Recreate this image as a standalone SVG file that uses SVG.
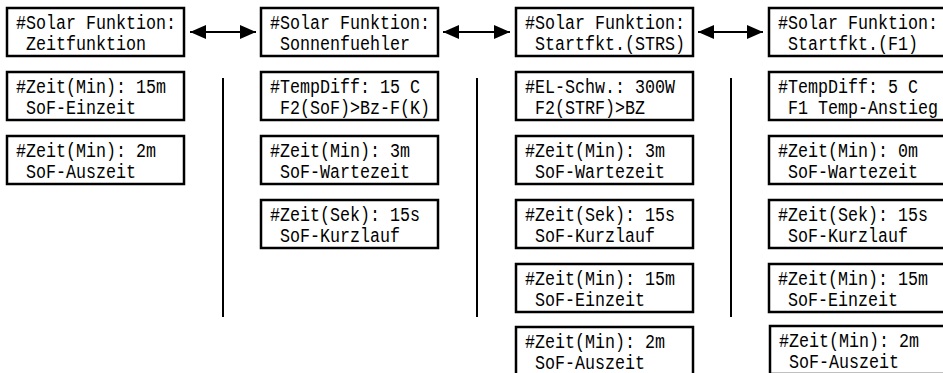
<svg xmlns="http://www.w3.org/2000/svg" width="943" height="373" viewBox="0 0 943 373">
<style>
.box{fill:#fff;stroke:#000;stroke-width:2.5}
.t{font-family:"Liberation Mono","DejaVu Sans Mono",monospace;font-size:20px;fill:#000}
.ln{stroke:#000;stroke-width:2;fill:none}
</style>
<defs>
<marker id="ah" viewBox="0 0 16 14" refX="16" refY="7" markerWidth="16" markerHeight="14" markerUnits="userSpaceOnUse" orient="auto-start-reverse">
<path d="M0,0 L16,7 L0,14 Z" fill="#000"/>
</marker>
</defs>
<rect width="943" height="373" fill="#fff"/>
<g id="connectors">
<line class="ln" x1="190" y1="32" x2="256" y2="32" marker-start="url(#ah)" marker-end="url(#ah)"/>
<line class="ln" x1="443" y1="32" x2="510" y2="32" marker-start="url(#ah)" marker-end="url(#ah)"/>
<line class="ln" x1="698" y1="32" x2="763" y2="32" marker-start="url(#ah)" marker-end="url(#ah)"/>
<line class="ln" x1="223" y1="78" x2="223" y2="317"/>
<line class="ln" x1="477" y1="78" x2="477" y2="317"/>
<line class="ln" x1="731" y1="78" x2="731" y2="317"/>
</g>
<g id="c1n1" transform="translate(7,8)"><rect class="box" width="177" height="48"/><text class="t" x="9" y="21" textLength="160" lengthAdjust="spacingAndGlyphs">#Solar Funktion:</text><text class="t" x="19" y="42" textLength="120" lengthAdjust="spacingAndGlyphs">Zeitfunktion</text></g>
<g id="c1n2" transform="translate(7,72)"><rect class="box" width="177" height="48"/><text class="t" x="9" y="21" textLength="150" lengthAdjust="spacingAndGlyphs">#Zeit(Min): 15m</text><text class="t" x="19" y="42" textLength="110" lengthAdjust="spacingAndGlyphs">SoF-Einzeit</text></g>
<g id="c1n3" transform="translate(7,136)"><rect class="box" width="177" height="48"/><text class="t" x="9" y="21" textLength="140" lengthAdjust="spacingAndGlyphs">#Zeit(Min): 2m</text><text class="t" x="19" y="42" textLength="110" lengthAdjust="spacingAndGlyphs">SoF-Auszeit</text></g>

<g id="c2n1" transform="translate(261,8)"><rect class="box" width="177" height="48"/><text class="t" x="9" y="21" textLength="160" lengthAdjust="spacingAndGlyphs">#Solar Funktion:</text><text class="t" x="19" y="42" textLength="130" lengthAdjust="spacingAndGlyphs">Sonnenfuehler</text></g>
<g id="c2n2" transform="translate(261,72)"><rect class="box" width="177" height="48"/><text class="t" x="9" y="21" textLength="150" lengthAdjust="spacingAndGlyphs">#TempDiff: 15 C</text><text class="t" x="19" y="42" textLength="150" lengthAdjust="spacingAndGlyphs">F2(SoF)&gt;Bz-F(K)</text></g>
<g id="c2n3" transform="translate(261,136)"><rect class="box" width="177" height="48"/><text class="t" x="9" y="21" textLength="140" lengthAdjust="spacingAndGlyphs">#Zeit(Min): 3m</text><text class="t" x="19" y="42" textLength="130" lengthAdjust="spacingAndGlyphs">SoF-Wartezeit</text></g>
<g id="c2n4" transform="translate(261,200)"><rect class="box" width="177" height="48"/><text class="t" x="9" y="21" textLength="150" lengthAdjust="spacingAndGlyphs">#Zeit(Sek): 15s</text><text class="t" x="19" y="42" textLength="120" lengthAdjust="spacingAndGlyphs">SoF-Kurzlauf</text></g>

<g id="c3n1" transform="translate(516,8)"><rect class="box" width="177" height="48"/><text class="t" x="9" y="21" textLength="160" lengthAdjust="spacingAndGlyphs">#Solar Funktion:</text><text class="t" x="19" y="42" textLength="150" lengthAdjust="spacingAndGlyphs">Startfkt.(STRS)</text></g>
<g id="c3n2" transform="translate(516,72)"><rect class="box" width="177" height="48"/><text class="t" x="9" y="21" textLength="150" lengthAdjust="spacingAndGlyphs">#EL-Schw.: 300W</text><text class="t" x="19" y="42" textLength="110" lengthAdjust="spacingAndGlyphs">F2(STRF)&gt;BZ</text></g>
<g id="c3n3" transform="translate(516,136)"><rect class="box" width="177" height="48"/><text class="t" x="9" y="21" textLength="140" lengthAdjust="spacingAndGlyphs">#Zeit(Min): 3m</text><text class="t" x="19" y="42" textLength="130" lengthAdjust="spacingAndGlyphs">SoF-Wartezeit</text></g>
<g id="c3n4" transform="translate(516,200)"><rect class="box" width="177" height="48"/><text class="t" x="9" y="21" textLength="150" lengthAdjust="spacingAndGlyphs">#Zeit(Sek): 15s</text><text class="t" x="19" y="42" textLength="120" lengthAdjust="spacingAndGlyphs">SoF-Kurzlauf</text></g>
<g id="c3n5" transform="translate(516,264)"><rect class="box" width="177" height="48"/><text class="t" x="9" y="21" textLength="150" lengthAdjust="spacingAndGlyphs">#Zeit(Min): 15m</text><text class="t" x="19" y="42" textLength="110" lengthAdjust="spacingAndGlyphs">SoF-Einzeit</text></g>
<g id="c3n6" transform="translate(516,327)"><rect class="box" width="177" height="48"/><text class="t" x="9" y="21" textLength="140" lengthAdjust="spacingAndGlyphs">#Zeit(Min): 2m</text><text class="t" x="19" y="42" textLength="110" lengthAdjust="spacingAndGlyphs">SoF-Auszeit</text></g>

<g id="c4n1" transform="translate(769,8)"><rect class="box" width="177" height="48"/><text class="t" x="9" y="21" textLength="160" lengthAdjust="spacingAndGlyphs">#Solar Funktion:</text><text class="t" x="19" y="42" textLength="130" lengthAdjust="spacingAndGlyphs">Startfkt.(F1)</text></g>
<g id="c4n2" transform="translate(769,72)"><rect class="box" width="177" height="48"/><text class="t" x="9" y="21" textLength="140" lengthAdjust="spacingAndGlyphs">#TempDiff: 5 C</text><text class="t" x="19" y="42" textLength="150" lengthAdjust="spacingAndGlyphs">F1 Temp-Anstieg</text></g>
<g id="c4n3" transform="translate(769,136)"><rect class="box" width="177" height="48"/><text class="t" x="9" y="21" textLength="140" lengthAdjust="spacingAndGlyphs">#Zeit(Min): 0m</text><text class="t" x="19" y="42" textLength="130" lengthAdjust="spacingAndGlyphs">SoF-Wartezeit</text></g>
<g id="c4n4" transform="translate(769,200)"><rect class="box" width="177" height="48"/><text class="t" x="9" y="21" textLength="150" lengthAdjust="spacingAndGlyphs">#Zeit(Sek): 15s</text><text class="t" x="19" y="42" textLength="120" lengthAdjust="spacingAndGlyphs">SoF-Kurzlauf</text></g>
<g id="c4n5" transform="translate(769,264)"><rect class="box" width="177" height="48"/><text class="t" x="9" y="21" textLength="150" lengthAdjust="spacingAndGlyphs">#Zeit(Min): 15m</text><text class="t" x="19" y="42" textLength="110" lengthAdjust="spacingAndGlyphs">SoF-Einzeit</text></g>
<g id="c4n6" transform="translate(770,326)"><rect class="box" width="177" height="48"/><text class="t" x="9" y="21" textLength="140" lengthAdjust="spacingAndGlyphs">#Zeit(Min): 2m</text><text class="t" x="19" y="42" textLength="110" lengthAdjust="spacingAndGlyphs">SoF-Auszeit</text></g>
</svg>
